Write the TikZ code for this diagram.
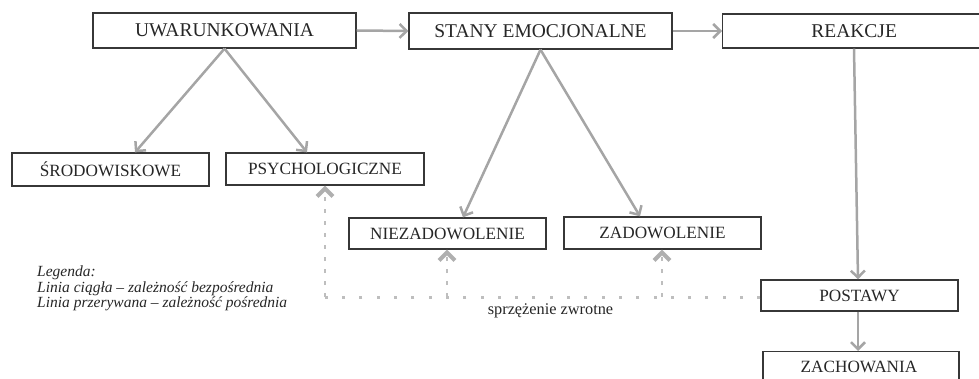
\documentclass[tikz,border=0pt]{standalone}
\usepackage{fontspec}
\setmainfont{Liberation Serif}
\usetikzlibrary{arrows.meta}
\definecolor{linegray}{RGB}{165,165,165}
\definecolor{dotgray}{RGB}{190,190,190}
\definecolor{headgray}{RGB}{175,175,175}
\definecolor{boxgray}{RGB}{55,55,55}
\tikzset{
  bigbox/.style={draw=boxgray, line width=1.3pt, inner sep=0pt, font=\fontsize{19.5}{22}\selectfont, text=black!85},
  smallbox/.style={draw=boxgray, line width=1.3pt, inner sep=0pt, font=\fontsize{17.2}{20}\selectfont, text=black!85},
  solidarrow/.style={draw=linegray, line width=2.5pt, -{Straight Barb[length=7pt,width=14pt,line width=2.5pt]}},
  dotline/.style={draw=dotgray, line width=3pt, dash pattern=on 3pt off 14.3pt},
  dashup/.style={draw=dotgray, line width=2pt, dash pattern=on 4pt off 8pt, -{Straight Barb[length=8pt,width=16pt,line width=4pt,color=headgray]}},
  legendtext/.style={font=\fontsize{15.5}{17}\itshape, anchor=west, inner sep=0pt, text=black!85}
}
\begin{document}
\begin{tikzpicture}[x=1pt,y=-1pt]
\useasboundingbox (0,0) rectangle (979,379);
% top row
\node[bigbox, minimum width=263pt, minimum height=35pt] (uwar) at (224.5,30.5) {UWARUNKOWANIA};
\node[bigbox, minimum width=263pt, minimum height=36pt] (stany) at (540.5,31) {STANY EMOCJONALNE};
\node[bigbox, minimum width=268pt, minimum height=34pt, anchor=west] (reak) at (722,31) {\hspace*{-5pt}REAKCJE};
% second row
\node[smallbox, minimum width=197pt, minimum height=33pt] (srod) at (110.5,169.5) {ŚRODOWISKOWE};
\node[smallbox, minimum width=198pt, minimum height=32pt] (psych) at (325,169) {PSYCHOLOGICZNE};
% third row
\node[smallbox, minimum width=197pt, minimum height=31pt] (niez) at (447.5,233.5) {NIEZADOWOLENIE};
\node[smallbox, minimum width=197pt, minimum height=32pt] (zad) at (662.5,233) {ZADOWOLENIE};
% right column
\node[smallbox, minimum width=197pt, minimum height=31pt] (post) at (859.5,295.5) {POSTAWY};
\node[smallbox, minimum width=196pt, minimum height=40pt, anchor=north] (zach) at (861,351) {};
\node[font=\fontsize{17.2}{20}\selectfont, text=black!85, inner sep=0pt] (zachtxt) at (859,367) {ZACHOWANIA};
% solid arrows
\draw[solidarrow] (uwar.east) -- (stany.west);
\draw[solidarrow] (stany.east) -- (reak.west);
\draw[solidarrow] (uwar.south) -- (srod.north -| 135,0);
\draw[solidarrow] (uwar.south) -- (psych.north -| 307,0);
\draw[solidarrow] (stany.south) -- (niez.north -| 463,0);
\draw[solidarrow] (stany.south) -- (zad.north -| 640,0);
\draw[solidarrow] (reak.south -| 854,0) -- (post.north -| 858,0);
\draw[solidarrow] (post.south -| 858,0) -- (zach.north -| 858,0);
% feedback
\coordinate (fbL) at (325,297);
\coordinate (fbN) at (447,297);
\coordinate (fbZ) at (662,297);
\draw[dotline] (post.west |- fbL) -- (fbL);
\draw[dashup] (fbL) -- (psych.south -| fbL);
\draw[dashup] (fbN) -- (niez.south -| fbN);
\draw[dashup] (fbZ) -- (zad.south -| fbZ);
\node[font=\fontsize{16.3}{18}\selectfont, text=black!85, inner sep=0pt] (fbtext) at (550.5,311) {sprzężenie zwrotne};
% legend
\node[legendtext] (leg1) at (37,273) {Legenda:};
\node[legendtext] (leg2) at (37,289) {Linia ciągła – zależność bezpośrednia};
\node[legendtext] (leg3) at (37,304) {Linia przerywana – zależność pośrednia};
\end{tikzpicture}
\end{document}
